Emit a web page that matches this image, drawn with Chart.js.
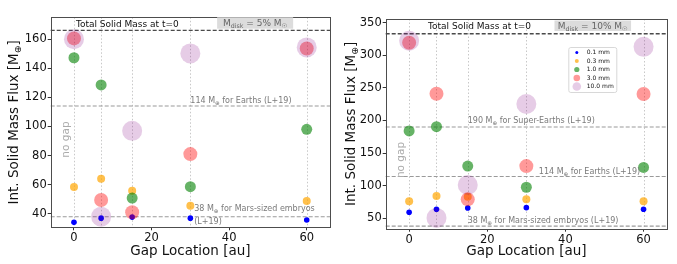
<!DOCTYPE html>
<html>
<head>
<meta charset="utf-8">
<script src="https://cdn.jsdelivr.net/npm/chart.js@4"></script>
<style>
  body { margin: 0; background: #fff; }
  canvas { position: absolute; top: 0; }
</style>
</head>
<body>
<canvas id="left" width="340" height="264" style="left:0"></canvas>
<canvas id="right" width="337" height="264" style="left:340px"></canvas>
<script>
// gap locations (au) and grain sizes
const gapLocations = [0, 7, 15, 30, 60];
const sizeLabels = ["0.1 mm", "0.3 mm", "1.0 mm", "3.0 mm", "10.0 mm"];

// Mdisk = 5% Msun
const flux5_01 = [34.1, 37.0, 37.7, 37.0, 35.7];
const flux5_03 = [58.4, 64.1, 55.9, 45.5, 48.8];
const flux5_1 = [147.2, 128.5, 50.8, 58.6, 98.0];
const flux5_3 = [160.5, 49.5, 41.0, 81.0, 153.6];
const flux5_10 = [160.0, 38.0, 97.0, 150.2, 154.3];

// Mdisk = 10% Msun
const flux10_01 = [59.2, 63.8, 65.8, 66.3, 63.8];
const flux10_03 = [76.0, 84.2, 83.0, 79.2, 76.0];
const flux10_1 = [184.0, 190.5, 130.0, 97.6, 128.0];
const flux10_3 = [319.3, 241.0, 79.0, 130.0, 240.6];
const flux10_10 = [322.4, 50.5, 101.0, 225.3, 313.0];

// reference levels
const totalMass5 = 166;
const totalMass10 = 333;
const refLevels5 = [114, 38];
const refLevels10 = [190, 114, 38];

// ticks
const xTicks = [0, 20, 40, 60];
const yTicks5 = [40, 60, 80, 100, 120, 140, 160];
const yTicks10 = [50, 100, 150, 200, 250, 300, 350];

const colors = ["rgba(0,0,255,1)", "rgba(255,165,0,0.7)", "rgba(0,128,0,0.6)", "rgba(255,0,0,0.4)", "rgba(128,0,128,0.2)"];
const radii = [2.8, 4, 5.5, 7, 10];
const legendRadii = [1.5, 2, 2.6, 3.3, 4.3];
const FONT = "'DejaVu Sans', sans-serif";

function makeDatasets(series) {
  return series.map((vals, k) => ({
    label: sizeLabels[k],
    data: gapLocations.map((x, i) => ({ x: x, y: vals[i] })),
    backgroundColor: colors[k],
    pointRadius: radii[k],
    pointHoverRadius: radii[k],
    pointBorderWidth: 0,
    borderWidth: 0,
    showLine: false,
    order: 5 - k
  }));
}

// draw text with subscripts, parts: strings or {sub: '...'}
function richText(ctx, x, y, parts, size, color, align) {
  const widths = parts.map(p => {
    if (typeof p === "string") { ctx.font = size + "px " + FONT; return ctx.measureText(p).width; }
    ctx.font = (size * 0.7) + "px " + FONT; return ctx.measureText(p.sub).width;
  });
  const total = widths.reduce((a, b) => a + b, 0);
  let cx = align === "center" ? x - total / 2 : x;
  ctx.fillStyle = color;
  ctx.textAlign = "left";
  ctx.textBaseline = "alphabetic";
  parts.forEach((p, i) => {
    if (typeof p === "string") { ctx.font = size + "px " + FONT; ctx.fillText(p, cx, y); }
    else { ctx.font = (size * 0.7) + "px " + FONT; ctx.fillText(p.sub, cx, y + size * 0.25); }
    cx += widths[i];
  });
}

const decoPlugin = {
  id: "deco",
  beforeDatasetsDraw(chart, args, opts) {
    const ctx = chart.ctx, a = chart.chartArea;
    const xs = chart.scales.x, ys = chart.scales.y;
    ctx.save();
    // dotted verticals at gap locations
    ctx.strokeStyle = "#c8c8c8";
    ctx.lineWidth = 1;
    ctx.setLineDash([1.5, 2]);
    gapLocations.forEach(g => {
      const px = Math.round(xs.getPixelForValue(g)) + 0.5;
      ctx.beginPath(); ctx.moveTo(px, a.top); ctx.lineTo(px, a.bottom); ctx.stroke();
    });
    // reference levels
    ctx.setLineDash([4, 2]);
    ctx.strokeStyle = "#9a9a9a";
    ctx.lineWidth = 1.1;
    opts.refLevels.forEach(v => {
      const py = ys.getPixelForValue(v);
      ctx.beginPath(); ctx.moveTo(a.left, py); ctx.lineTo(a.right, py); ctx.stroke();
    });
    ctx.strokeStyle = "#4a4a4a";
    ctx.lineWidth = 1.4;
    const ty = ys.getPixelForValue(opts.total);
    ctx.beginPath(); ctx.moveTo(a.left, ty); ctx.lineTo(a.right, ty); ctx.stroke();
    ctx.restore();
  },
  afterDraw(chart, args, opts) {
    const ctx = chart.ctx, a = chart.chartArea;
    const xs = chart.scales.x, ys = chart.scales.y;
    ctx.save();
    // frame
    ctx.strokeStyle = "#4d4d4d";
    ctx.lineWidth = 1;
    ctx.strokeRect(Math.round(a.left) + 0.5, Math.round(a.top) + 0.5, Math.round(a.right - a.left), Math.round(a.bottom - a.top));
    // y axis title with subscript
    ctx.save();
    ctx.translate(opts.yTitleX, (a.top + a.bottom) / 2);
    ctx.rotate(-Math.PI / 2);
    richText(ctx, 0, 5, ["Int. Solid Mass Flux [M", { sub: "\u2295" }, "]"], 13.5, "#111", "center");
    ctx.restore();
    // total mass label
    richText(ctx, xs.getPixelForValue(opts.totalLabel.x), ys.getPixelForValue(opts.total) + opts.totalLabel.dy,
      ["Total Solid Mass at t=0"], 9, "#111", "left");
    // disk mass box
    const bx0 = xs.getPixelForValue(opts.disk.x0), bx1 = xs.getPixelForValue(opts.disk.x1);
    ctx.fillStyle = "#dcdcdc";
    ctx.fillRect(bx0, a.top + opts.disk.top, bx1 - bx0, opts.disk.h);
    richText(ctx, (bx0 + bx1) / 2, a.top + opts.disk.top + opts.disk.h - 2.5,
      ["M", { sub: "disk" }, " = " + opts.disk.pct + "% M", { sub: "\u2609" }], 9, "#666", "center");
    // level labels
    opts.labels.forEach(l => {
      richText(ctx, xs.getPixelForValue(l.x), ys.getPixelForValue(l.y) + l.dy, l.parts, 8, "#7a7a7a", "left");
    });
    // no gap
    ctx.save();
    ctx.translate(xs.getPixelForValue(opts.noGap.x), ys.getPixelForValue(opts.noGap.y));
    ctx.rotate(-Math.PI / 2);
    ctx.font = "10.5px " + FONT;
    ctx.fillStyle = "#ababab";
    ctx.textAlign = "center";
    ctx.textBaseline = "middle";
    ctx.fillText("no gap", 0, 0);
    ctx.restore();
    // legend
    if (opts.legend) {
      const L = opts.legend;
      const lx = a.right - L.right - L.w, ly = a.top + L.top;
      ctx.fillStyle = "rgba(255,255,255,0.9)";
      ctx.strokeStyle = "#d8d8d8";
      ctx.lineWidth = 1;
      ctx.beginPath();
      ctx.roundRect(lx + 0.5, ly + 0.5, L.w, L.h, 2);
      ctx.fill(); ctx.stroke();
      sizeLabels.forEach((lab, k) => {
        const ey = ly + 5.5 + k * 8.5;
        ctx.fillStyle = colors[k];
        ctx.beginPath(); ctx.arc(lx + 8.5, ey, legendRadii[k], 0, Math.PI * 2); ctx.fill();
        ctx.font = "6px " + FONT;
        ctx.fillStyle = "#111";
        ctx.textAlign = "left";
        ctx.textBaseline = "middle";
        ctx.fillText(lab, lx + 18.5, ey);
      });
    }
    ctx.restore();
  }
};

function makeChart(id, series, yMin, yMax, yTicks, yWidth, xHeight, pad, deco) {
  return new Chart(document.getElementById(id), {
    type: "scatter",
    data: { datasets: makeDatasets(series) },
    plugins: [decoPlugin],
    options: {
      responsive: false,
      devicePixelRatio: 1,
      animation: false,
      events: [],
      layout: { padding: pad },
      plugins: { legend: { display: false }, tooltip: { enabled: false }, deco: deco },
      scales: {
        x: {
          type: "linear", min: -6, max: 66,
          afterBuildTicks: s => { s.ticks = xTicks.map(v => ({ value: v })); },
          afterFit: s => { s.height = xHeight; },
          grid: { drawOnChartArea: false, drawTicks: true, tickLength: 3, color: "#333" },
          border: { display: false },
          ticks: { font: { family: FONT, size: 11.5 }, color: "#111", padding: 1, maxRotation: 0 },
          title: { display: true, text: "Gap Location [au]", font: { family: FONT, size: 13.5 }, color: "#111", padding: { top: 0, bottom: 4 } }
        },
        y: {
          type: "linear", min: yMin, max: yMax,
          afterBuildTicks: s => { s.ticks = yTicks.map(v => ({ value: v })); },
          afterFit: s => { s.width = yWidth; },
          grid: { drawOnChartArea: false, drawTicks: true, tickLength: 3, color: "#333" },
          border: { display: false },
          ticks: { font: { family: FONT, size: 11.5 }, color: "#111", padding: 1 }
        }
      }
    }
  });
}

makeChart("left", [flux5_01, flux5_03, flux5_1, flux5_3, flux5_10], 30.7, 175, yTicks5, 50.7, 36.7,
  { left: 0, top: 17.3, right: 7.3, bottom: 0 },
  {
    yTitleX: 13,
    total: totalMass5, refLevels: refLevels5,
    totalLabel: { x: 0.5, dy: -3.5 },
    disk: { x0: 36.9, x1: 56.5, top: 0, h: 11.4, pct: 5 },
    labels: [
      { x: 30, y: 114, dy: -3.2, parts: ["114 M", { sub: "\u2295" }, " for Earths (L+19)"] },
      { x: 31, y: 38, dy: -5.2, parts: ["38 M", { sub: "\u2295" }, " for Mars-sized embryos"] },
      { x: 31, y: 38, dy: 7, parts: ["(L+19)"] }
    ],
    noGap: { x: -2, y: 91 },
    legend: null
  });

makeChart("right", [flux10_01, flux10_03, flux10_1, flux10_3, flux10_10], 34, 355.7, yTicks10, 45.7, 35.3,
  { left: 0, top: 19, right: 9.3, bottom: 0 },
  {
    yTitleX: 10,
    total: totalMass10, refLevels: refLevels10,
    totalLabel: { x: 4.85, dy: -4.5 },
    disk: { x0: 37.2, x1: 56.8, top: 1.5, h: 10.5, pct: 10 },
    labels: [
      { x: 15, y: 190, dy: -4, parts: ["190 M", { sub: "\u2295" }, " for Super-Earths (L+19)"] },
      { x: 33.2, y: 114, dy: -3, parts: ["114 M", { sub: "\u2295" }, " for Earths (L+19)"] },
      { x: 15, y: 38, dy: -2.7, parts: ["38 M", { sub: "\u2295" }, " for Mars-sized embryos (L+19)"] }
    ],
    noGap: { x: -1.9, y: 139.4 },
    legend: { right: 50.7, top: 28, w: 48, h: 45 }
  });
</script>
</body>
</html>
